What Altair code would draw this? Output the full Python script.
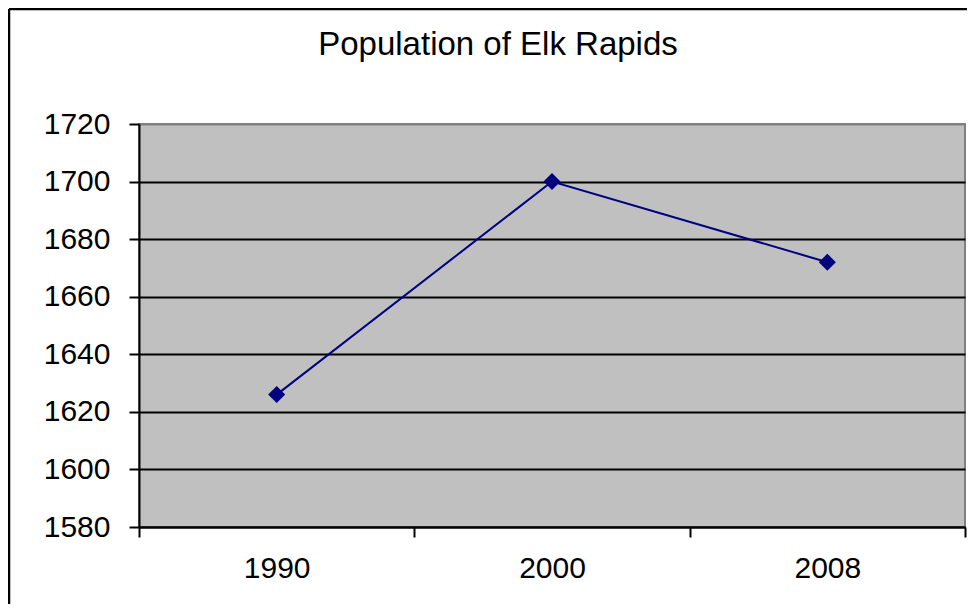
import altair as alt
import pandas as pd

# ---- data ----
years = ["1990", "2000", "2008"]
population = [1626, 1700, 1672]
y_ticks = [1580, 1600, 1620, 1640, 1660, 1680, 1700, 1720]
title_text = "Population of Elk Rapids"

df = pd.DataFrame({"Year": years, "Population": population})
one = pd.DataFrame({"k": [0]})

W, H = 826, 403
PL, PT, PR, PB = 131, 116, 2, 77
FONT = "Liberation Sans"
NAVY = "#000080"

x = alt.X(
    "Year:N", sort=years, bandPosition=0.5,
    scale=alt.Scale(type="band", paddingInner=0, paddingOuter=0),
    axis=alt.Axis(title=None, labelAngle=0, tickBand="extent", tickSize=10, tickWidth=2,
                  tickColor="black", domainColor="black", domainWidth=2,
                  labelFontSize=30, labelPadding=16, labelColor="black", labelFont=FONT,
                  grid=False),
)
y = alt.Y(
    "Population:Q",
    scale=alt.Scale(domain=[y_ticks[0], y_ticks[-1]], nice=False, zero=False),
    axis=alt.Axis(title=None, values=y_ticks, format="d", tickSize=10, tickWidth=2,
                  tickColor="black", domainColor="black", domainWidth=2, labelFontSize=30,
                  labelPadding=19, labelColor="black", labelFont=FONT, grid=True, gridWidth=2,
                  gridColor={"condition": {"test": "datum.value === 1720", "value": "#808080"},
                             "value": "black"}),
)

base = alt.Chart(df)
line = base.mark_line(color=NAVY, strokeWidth=2).encode(x=x, y=y)
pts = base.mark_point(shape="diamond", filled=True, size=290, color=NAVY, opacity=1).encode(x=x, y=y)

border_left = alt.Chart(one).mark_rule(color="black", strokeWidth=2.5).encode(
    x=alt.value(-130), y=alt.value(-115), y2=alt.value(H + PB))
border_top = alt.Chart(one).mark_rule(color="black", strokeWidth=2.5).encode(
    x=alt.value(-130), x2=alt.value(W + PR), y=alt.value(-115))

title = alt.Chart(one).mark_text(
    text=title_text, font=FONT, fontSize=33, color="black", align="center",
    baseline="alphabetic").encode(x=alt.value(W / 2 - 54), y=alt.value(-69))

chart = alt.layer(line, pts, border_left, border_top, title).properties(
    width=W, height=H,
    autosize=alt.AutoSizeParams(type="none"),
    padding={"left": PL, "top": PT, "right": PR, "bottom": PB},
    background="white",
).configure_view(fill="#C0C0C0", stroke="#808080", strokeWidth=2)

chart.save("out.html", embed_options={"renderer": "svg", "actions": False})
